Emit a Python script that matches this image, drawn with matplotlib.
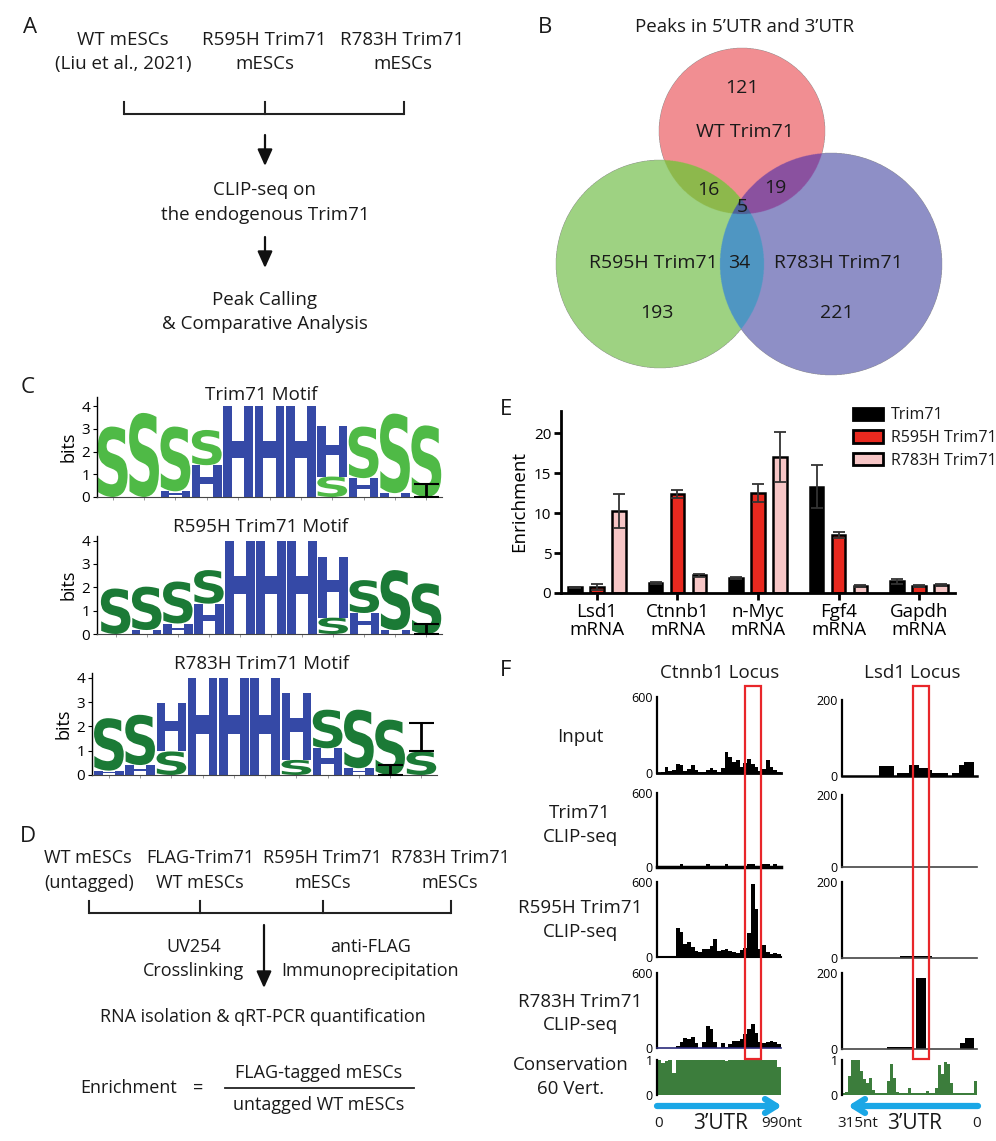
import numpy as np
import matplotlib
matplotlib.use('Agg')
import matplotlib.pyplot as plt
from matplotlib.patches import Rectangle, PathPatch, Patch
from matplotlib.textpath import TextPath
from matplotlib.font_manager import FontProperties
from matplotlib.colors import to_rgba
import matplotlib.transforms as mtransforms

plt.rcParams['font.family'] = ['Open Sans', 'DejaVu Sans']
plt.rcParams['text.color'] = '#1a1a1a'

# ---------------- data ----------------
# Panel B: Venn counts
venn_wt_only = 121
venn_r595h_only = 193
venn_r783h_only = 221
venn_wt_r595h = 16
venn_wt_r783h = 19
venn_r595h_r783h = 34
venn_all = 5

# Panel C: motif logos (bits per position), S and H letters
motif_titles = ['Trim71 Motif', 'R595H Trim71 Motif', 'R783H Trim71 Motif']
motif1_S = [3.1, 3.7, 2.85, 1.55, 0, 0, 0, 0.9, 2.27, 3.5, 3.15]
motif1_H = [0, 0, 0.25, 1.4, 4.0, 4.0, 4.0, 2.22, 0.83, 0.17, 0]
motif1_err_col = [11]
motif1_err_lo = [0.0]
motif1_err_hi = [0.55]
motif2_S = [1.95, 1.86, 1.8, 1.44, 0, 0, 0, 0.7, 1.41, 2.57, 2.17]
motif2_H = [0, 0.17, 0.45, 1.3, 4.0, 4.0, 4.0, 2.61, 0.9, 0.17, 0]
motif2_err_col = [11]
motif2_err_lo = [0.0]
motif2_err_hi = [0.43]
motif3_S = [2.16, 2.07, 0.97, 0, 0, 0, 0.62, 1.59, 2.41, 2.28, 0.97]
motif3_H = [0.18, 0.41, 2.0, 4.0, 4.0, 4.0, 2.76, 1.1, 0.28, 0, 0]
motif3_err_col = [10, 11]
motif3_err_lo = [0.0, 0.97]
motif3_err_hi = [0.4, 2.15]

# Panel E: RIP-qPCR enrichment
genes = ['Lsd1\nmRNA', 'Ctnnb1\nmRNA', 'n-Myc\nmRNA', 'Fgf4\nmRNA', 'Gapdh\nmRNA']
series_names = ['Trim71', 'R595H Trim71', 'R783H Trim71']
trim71_val = [0.7, 1.25, 1.9, 13.3, 1.45]
trim71_err = [0.08, 0.08, 0.1, 2.7, 0.3]
r595h_val = [0.75, 12.4, 12.55, 7.24, 0.9]
r595h_err = [0.35, 0.45, 1.1, 0.35, 0.1]
r783h_val = [10.3, 2.2, 17.05, 0.85, 0.95]
r783h_err = [2.1, 0.2, 3.1, 0.1, 0.12]

# Panel F: coverage tracks
ctnnb1_len = 990
ctnnb1_input = [3, 8, 50, 18, 25, 70, 60, 18, 30, 65, 20, 10, 10, 25, 40, 20, 10,
                40, 165, 125, 90, 100, 45, 80, 108, 75, 50, 15, 30, 100, 45, 20, 8]
ctnnb1_trim71 = [12, 12, 12, 12, 12, 12, 28, 12, 12, 12, 12, 12, 12, 28, 12, 12, 12,
                 12, 28, 12, 12, 12, 12, 12, 28, 28, 12, 12, 25, 25, 12, 25, 12]
ctnnb1_r595h = [0, 0, 0, 0, 5, 230, 200, 100, 120, 80, 50, 40, 60, 65, 90, 140, 45,
                55, 60, 45, 40, 35, 55, 75, 190, 580, 380, 60, 95, 40, 25, 35, 25]
ctnnb1_r783h = [0, 0, 0, 0, 0, 15, 45, 80, 70, 90, 40, 0, 45, 175, 150, 50, 0,
                40, 10, 35, 60, 55, 70, 110, 150, 190, 120, 50, 40, 50, 55, 45, 35]
ctnnb1_cons = [1.0, 0.92, 0.97, 1.0, 0.62, 1.0, 1.0, 1.0, 1.0, 1.0, 1.0, 1.0, 1.0, 1.0, 1.0, 1.0, 1.0,
               1.0, 0.96, 1.0, 1.0, 1.0, 1.0, 1.0, 1.0, 1.0, 1.0, 1.0, 1.0, 1.0, 1.0, 1.0, 0.8]

lsd1_len = 315
lsd1_input_start = [194, 158, 136, 113, 105, 68, 43, 31, 19, 6]
lsd1_input_end = [229, 187, 158, 136, 113, 105, 58, 43, 31, 19]
lsd1_input_val = [26, 9, 29, 21, 15, 9, 9, 28, 36, 38]
lsd1_r595h_start = [105]
lsd1_r595h_end = [179]
lsd1_r595h_val = [6]
lsd1_r783h_start = [149, 119, 27, 6]
lsd1_r783h_end = [210, 142, 39, 27]
lsd1_r783h_val = [6, 187, 15, 29]
lsd1_cons = [0.05, 0.1, 0.55, 1.0, 1.0, 1.0, 0.7, 0.45, 0.35, 0.5, 0.15, 0.07, 0.07, 0.07, 0.07,
             0.4, 0.9, 0.5, 0.08, 0.05, 0.05, 0.07, 0.2, 0.05, 0.05, 0.05, 0.05, 0.05, 0.12, 0.05,
             0.05, 0.2, 0.85, 0.6, 0.95, 0.9, 0.35, 0.05, 0.05, 0.05, 0.05, 0.05, 0.05, 0.05, 0.4]

# ---------------- figure ----------------
W, H = 996, 1141
fig = plt.figure(figsize=(W / 100, H / 100), dpi=100)
canvas = fig.add_axes([0, 0, 1, 1])
canvas.set_xlim(0, W)
canvas.set_ylim(H, 0)
canvas.axis('off')


def add_ax(x0, y0, x1, y1):
    return fig.add_axes([x0 / W, 1 - y1 / H, (x1 - x0) / W, (y1 - y0) / H])


def txt(x, y, s, size=13.5, ha='center', va='baseline', **kw):
    canvas.text(x, y, s, fontsize=size, ha=ha, va=va, **kw)


def arrow_down(x, y0, y1):
    canvas.annotate('', xy=(x, y1), xytext=(x, y0),
                    arrowprops=dict(arrowstyle='-|>,head_length=1.0,head_width=0.45',
                                    lw=1.6, color='#111111', shrinkA=0, shrinkB=0))


def bracket(xs, y, ytop):
    canvas.plot([xs[0], xs[-1]], [y, y], color='#222222', lw=1.5, solid_capstyle='butt')
    for x in xs:
        canvas.plot([x, x], [ytop, y], color='#222222', lw=1.5)


LBL = 16
# ---------- Panel A ----------
txt(30, 33, 'A', size=LBL)
txt(123, 45, 'WT mESCs')
txt(123, 69, '(Liu et al., 2021)')
txt(264, 45, 'R595H Trim71')
txt(265, 69, 'mESCs')
txt(402, 45, 'R783H Trim71')
txt(403, 69, 'mESCs')
bracket([124, 265, 404], 114, 102)
arrow_down(265, 135, 166)
txt(264, 195, 'CLIP-seq on')
txt(265, 220, 'the endogenous Trim71')
arrow_down(265, 237, 268)
txt(265, 305, 'Peak Calling')
txt(265, 329, '& Comparative Analysis')

# ---------- Panel B (Venn) ----------
txt(545, 33, 'B', size=LBL)
txt(745, 32, 'Peaks in 5\u2019UTR and 3\u2019UTR')
vx0, vx1, vy0, vy1 = 540, 960, 40, 385
res = 3
xs = vx0 + (np.arange((vx1 - vx0) * res) + 0.5) / res
ys = vy0 + (np.arange((vy1 - vy0) * res) + 0.5) / res
XX, YY = np.meshgrid(xs, ys)
inR = (XX - 742) ** 2 + (YY - 131) ** 2 <= 83 ** 2
inG = (XX - 660) ** 2 + (YY - 264) ** 2 <= 104 ** 2
inB = (XX - 831) ** 2 + (YY - 264) ** 2 <= 111 ** 2
code = inR * 1 + inG * 2 + inB * 4
img = np.zeros(XX.shape + (4,))
region_cols = {1: '#F28E92', 2: '#9ED283', 4: '#8E8FC7', 3: '#8DB94C',
               5: '#8B51A0', 6: '#4F97C3', 7: '#4E6399'}
for k, c in region_cols.items():
    img[code == k] = to_rgba(c)
canvas.imshow(img, extent=(vx0, vx1, vy1, vy0), interpolation='antialiased', zorder=0)
canvas.set_xlim(0, W)
canvas.set_ylim(H, 0)
canvas.set_aspect('auto')
VS = 14
txt(742, 93, str(venn_wt_only), size=VS)
txt(745, 137, 'WT Trim71', size=VS)
txt(708, 195, str(venn_wt_r595h), size=VS)
txt(775, 193, str(venn_wt_r783h), size=VS)
txt(742, 212, str(venn_all), size=VS)
txt(739, 268, str(venn_r595h_r783h), size=VS)
txt(653, 268, 'R595H Trim71', size=VS)
txt(838, 268, 'R783H Trim71', size=VS)
txt(657, 318, str(venn_r595h_only), size=VS)
txt(837, 318, str(venn_r783h_only), size=VS)

# ---------- Panel C (logos) ----------
txt(28, 393, 'C', size=LBL)
HBLUE = '#3549A6'
LOGO_FONT = FontProperties(family='DejaVu Sans', weight='bold')


def draw_letter(ax, ch, xc, y, h, color, w=0.95):
    tp = TextPath((0, 0), ch, size=1, prop=LOGO_FONT)
    bb = tp.get_extents()
    tr = (mtransforms.Affine2D().translate(-bb.x0, -bb.y0)
          .scale(w / bb.width, h / bb.height).translate(xc - w / 2, y))
    ax.add_patch(PathPatch(tr.transform_path(tp), fc=color, ec='none', lw=0))


def logo(box, xlim0, ytop, S, Hh, scol, ecol, elo, ehi, title, title_y):
    ax = add_ax(*box)
    for i, (s, hv) in enumerate(zip(S, Hh)):
        items = sorted([('S', s, scol), ('H', hv, HBLUE)], key=lambda t: t[1])
        y = 0
        for ch, hgt, c in items:
            if hgt > 0:
                draw_letter(ax, ch, i + 1, y, hgt, c)
                y += hgt
    for c, lo, hi in zip(ecol, elo, ehi):
        ax.errorbar([c], [(lo + hi) / 2], yerr=[(hi - lo) / 2], fmt='none',
                    ecolor='black', elinewidth=2, capsize=9, capthick=1.5, zorder=5)
    ax.set_xlim(xlim0, 11.5)
    ax.set_ylim(0, ytop)
    ax.set_yticks([0, 1, 2, 3, 4])
    ax.set_xticks(range(1, 12))
    ax.set_xticklabels([])
    ax.tick_params(axis='y', labelsize=11, length=3, width=0.8, pad=2)
    ax.tick_params(axis='x', length=2, width=0.6, colors='#888888')
    for sp in ['top', 'right']:
        ax.spines[sp].set_visible(False)
    ax.spines['left'].set_linewidth(1.0)
    ax.spines['bottom'].set_linewidth(0.8)
    ax.spines['bottom'].set_color('#444444')
    ax.set_ylabel('bits', fontsize=13, labelpad=3)
    ax.patch.set_alpha(0)
    txt(261, title_y, title)
    return ax


ax1 = logo((97, 397, 442, 497), 0.5, 4.4, motif1_S, motif1_H, '#4FBA46',
           motif1_err_col, motif1_err_lo, motif1_err_hi, motif_titles[0], 400)
ax2 = logo((97, 536, 442, 634), 0.4, 4.2, motif2_S, motif2_H, '#1B7A36',
           motif2_err_col, motif2_err_lo, motif2_err_hi, motif_titles[1], 532)
ax3 = logo((92, 673, 437, 775), 0.46, 4.2, motif3_S, motif3_H, '#1B7A36',
           motif3_err_col, motif3_err_lo, motif3_err_hi, motif_titles[2], 669)

# ---------- Panel D ----------
DS = 13
txt(28, 842, 'D', size=LBL)
txt(88, 863, 'WT mESCs', size=DS)
txt(89, 888, '(untagged)', size=DS)
txt(200, 863, 'FLAG-Trim71', size=DS)
txt(200, 888, 'WT mESCs', size=DS)
txt(322, 863, 'R595H Trim71', size=DS)
txt(323, 888, 'mESCs', size=DS)
txt(450, 863, 'R783H Trim71', size=DS)
txt(450, 888, 'mESCs', size=DS)
bracket([89, 200, 323, 451], 913, 901)
arrow_down(264, 925, 988)
txt(194, 952, 'UV254', size=DS)
txt(194, 976, 'Crosslinking', size=DS)
txt(371, 952, 'anti-FLAG', size=DS)
txt(370, 976, 'Immunoprecipitation', size=DS)
txt(263, 1022, 'RNA isolation & qRT-PCR quantification', size=DS)
txt(129, 1093, 'Enrichment', size=DS)
txt(198, 1093, '=', size=DS)
canvas.plot([225, 414], [1088, 1088], color='#222222', lw=1.3)
txt(319, 1078, 'FLAG-tagged mESCs', size=DS)
txt(319, 1110, 'untagged WT mESCs', size=DS)

# ---------- Panel E (bar chart) ----------
txt(506, 415, 'E', size=LBL)
axe = add_ax(561, 411, 955, 593)
xg = np.arange(len(genes))
bw = 0.17
off = 0.273
cols = ['black', '#E8291F', '#F7C6C6']
vals = [trim71_val, r595h_val, r783h_val]
errs = [trim71_err, r595h_err, r783h_err]
handles = []
for k in range(3):
    axe.bar(xg + (k - 1) * off, vals[k], width=bw, color=cols[k], edgecolor='black',
            linewidth=1.8, zorder=2)
    axe.errorbar(xg + (k - 1) * off, vals[k], yerr=errs[k], fmt='none', ecolor='#333333',
                 elinewidth=1.3, capsize=4, capthick=1.3, zorder=3)
    handles.append(Patch(facecolor=cols[k], edgecolor='black', linewidth=2, label=series_names[k]))
axe.set_xlim(-0.447, 4.447)
axe.set_ylim(0, 22.8)
axe.set_yticks([0, 5, 10, 15, 20])
axe.set_xticks(xg)
axe.set_xticklabels(genes, fontsize=13.5, linespacing=1.0)
axe.tick_params(axis='y', labelsize=11, length=5, width=2, pad=2)
axe.tick_params(axis='x', length=5, width=2, pad=2)
for sp in ['top', 'right']:
    axe.spines[sp].set_visible(False)
axe.spines['left'].set_linewidth(2)
axe.spines['bottom'].set_linewidth(2)
axe.set_ylabel('Enrichment', fontsize=13.5, labelpad=4)
axe.patch.set_alpha(0)
axe.legend(handles=handles, loc='upper left', bbox_to_anchor=((853 - 561) / 394, 1.02),
           frameon=False, fontsize=11.5, handlelength=1.9, handleheight=0.8,
           handletextpad=0.45, labelspacing=0.42, borderpad=0, borderaxespad=0)

# ---------- Panel F (tracks) ----------
txt(506, 676, 'F', size=LBL)
txt(720, 678, 'Ctnnb1 Locus')
txt(912, 678, 'Lsd1 Locus')
txt(580, 742, 'Input')
txt(580, 818, 'Trim71')
txt(580, 842, 'CLIP-seq')
txt(580, 913, 'R595H Trim71')
txt(580, 937, 'CLIP-seq')
txt(580, 1007, 'R783H Trim71')
txt(580, 1030, 'CLIP-seq')
txt(571, 1070, 'Conservation')
txt(571, 1094, '60 Vert.')


def track_ax(box, ymax, xl, bottom_col='black', bottom_lw=1.5):
    ax = add_ax(*box)
    ax.set_xlim(*xl)
    ax.set_ylim(0, ymax)
    ax.set_xticks([])
    ax.set_yticks([0, ymax])
    ax.set_yticklabels(['0', str(ymax)])
    ax.tick_params(axis='y', length=0, pad=3, labelsize=9)
    for sp in ['top', 'right']:
        ax.spines[sp].set_visible(False)
    ax.spines['left'].set_linewidth(1.6)
    ax.spines['bottom'].set_linewidth(bottom_lw)
    ax.spines['bottom'].set_color(bottom_col)
    ax.patch.set_alpha(0)
    return ax


def binned(ax, values, length, color='black'):
    n = len(values)
    edges = np.linspace(0, length, n + 1)
    yv = list(values) + [values[-1]]
    ax.fill_between(edges, 0, yv, step='post', color=color, lw=0)


def segs(ax, st, en, vv, color='black'):
    for s, e, v in zip(st, en, vv):
        ax.fill_between([s, e], 0, [v, v], color=color, lw=0)


L = (657, 781)
R = (842, 977)
CONS = '#3C7D3C'
a = track_ax((L[0], 697, L[1], 773), 600, (0, ctnnb1_len), bottom_lw=2)
binned(a, ctnnb1_input, ctnnb1_len)
a = track_ax((L[0], 793, L[1], 867), 600, (0, ctnnb1_len), bottom_lw=2.5)
binned(a, ctnnb1_trim71, ctnnb1_len)
a = track_ax((L[0], 882, L[1], 957), 600, (0, ctnnb1_len), bottom_lw=1.5)
binned(a, ctnnb1_r595h, ctnnb1_len)
a = track_ax((L[0], 973, L[1], 1048), 600, (0, ctnnb1_len), bottom_col='#2a2a7a', bottom_lw=1.2)
binned(a, ctnnb1_r783h, ctnnb1_len)
a = track_ax((L[0], 1060, L[1], 1095), 1, (0, ctnnb1_len), bottom_lw=0)
binned(a, ctnnb1_cons, ctnnb1_len, CONS)

a = track_ax((R[0], 700, R[1], 776), 200, (lsd1_len, 0), bottom_lw=1.8)
segs(a, lsd1_input_start, lsd1_input_end, lsd1_input_val)
a = track_ax((R[0], 795, R[1], 867), 200, (lsd1_len, 0), bottom_col='#444444', bottom_lw=1.2)
a = track_ax((R[0], 882, R[1], 958), 200, (lsd1_len, 0), bottom_col='#444444', bottom_lw=1.2)
segs(a, lsd1_r595h_start, lsd1_r595h_end, lsd1_r595h_val)
a = track_ax((R[0], 973, R[1], 1049), 200, (lsd1_len, 0), bottom_col='#444444', bottom_lw=1.2)
segs(a, lsd1_r783h_start, lsd1_r783h_end, lsd1_r783h_val)
a = track_ax((R[0], 1060, R[1], 1095), 1, (lsd1_len, 0), bottom_lw=0)
xe = lsd1_len - np.arange(len(lsd1_cons) + 1) * (lsd1_len / len(lsd1_cons))
a.fill_between(xe, 0, list(lsd1_cons) + [lsd1_cons[-1]], step='post', color=CONS, lw=0)

# red highlight boxes
for x0 in (745, 913):
    fig.add_artist(Rectangle((x0, 686), 16, 373, transform=canvas.transData,
                             fill=False, edgecolor='#E8262A', lw=1.6, zorder=20))

# blue 3'UTR arrows
BLUE = '#1AA7E6'
canvas.annotate('', xy=(782, 1106), xytext=(657, 1106),
                arrowprops=dict(arrowstyle='->,head_length=0.8,head_width=0.5', lw=4.5,
                                color=BLUE, shrinkA=0, shrinkB=0))
canvas.annotate('', xy=(848, 1106), xytext=(978, 1106),
                arrowprops=dict(arrowstyle='->,head_length=0.8,head_width=0.5', lw=4.5,
                                color=BLUE, shrinkA=0, shrinkB=0))
txt(659, 1127, '0', size=11)
txt(720, 1129, '3\u2019UTR', size=15)
txt(782, 1127, '990nt', size=11)
txt(858, 1127, '315nt', size=11)
txt(915, 1129, '3\u2019UTR', size=15)
txt(977, 1127, '0', size=11)

fig.savefig('out.png', dpi=100)
